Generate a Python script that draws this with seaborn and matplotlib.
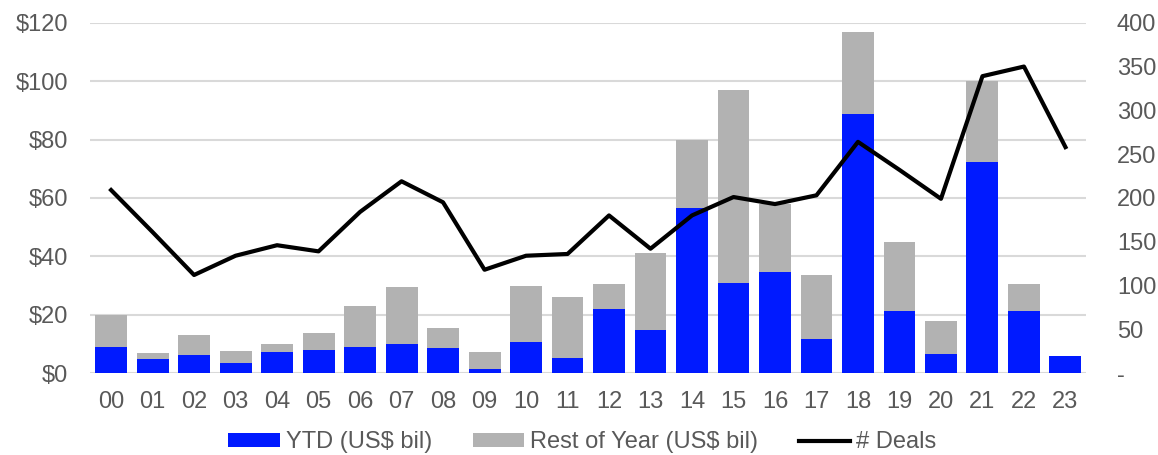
import numpy as np
import pandas as pd
import matplotlib
matplotlib.use("Agg")
import matplotlib.pyplot as plt
import seaborn as sns
from matplotlib.patches import Patch
from matplotlib.lines import Line2D

# ── data ────────────────────────────────────────────────────────────────────
years = ["00", "01", "02", "03", "04", "05", "06", "07", "08", "09", "10", "11",
         "12", "13", "14", "15", "16", "17", "18", "19", "20", "21", "22", "23"]
ytd = [9.0, 4.9, 6.3, 3.5, 7.3, 8.0, 9.0, 9.8, 8.7, 1.4, 10.7, 5.3,
       21.9, 14.7, 56.5, 30.7, 34.5, 11.7, 88.8, 21.3, 6.5, 72.3, 21.3, 5.8]
rest = [11.0, 1.9, 6.7, 4.2, 2.6, 5.7, 14.0, 19.8, 6.6, 5.7, 19.1, 20.7,
        8.5, 26.3, 23.4, 66.1, 23.5, 21.9, 28.0, 23.5, 11.3, 27.8, 9.1, 0.0]
deals = [209, 161, 112, 134, 146, 139, 184, 219, 195, 118, 134, 136,
         180, 142, 180, 201, 193, 203, 264, 232, 199, 339, 350, 258]

BLUE = "#001AFF"
GREY = "#B2B2B2"
TXT = "#595959"

plt.rcParams["font.family"] = ["Liberation Sans", "DejaVu Sans"]

df = pd.DataFrame({"year": years, "ytd": ytd, "rest": rest, "deals": deals})
df["total"] = df["ytd"] + df["rest"]
df["pos"] = np.arange(len(df))

fig, ax = plt.subplots(figsize=(11.58, 4.55), dpi=100)
fig.subplots_adjust(left=0.078, right=0.938, top=0.95, bottom=0.18)

sns.barplot(data=df, x="year", y="total", color=GREY, width=0.77,
            saturation=1, ax=ax, zorder=2)
sns.barplot(data=df, x="year", y="ytd", color=BLUE, width=0.77,
            saturation=1, ax=ax, zorder=3)

ax.set_ylim(0, 120)
ax.set_yticks(range(0, 121, 20))
ax.set_yticklabels([f"${v}" for v in range(0, 121, 20)])
ax.set_xlim(-0.5, len(years) - 0.5)
ax.set_xlabel("")
ax.set_ylabel("")
ax.grid(axis="y", color="#D9D9D9", linewidth=1.5, zorder=0)
ax.set_axisbelow(True)
for s in ax.spines.values():
    s.set_visible(False)
ax.tick_params(axis="both", length=0, labelsize=17, colors=TXT)
ax.tick_params(axis="x", pad=13)
ax.tick_params(axis="y", pad=16)

ax2 = ax.twinx()
sns.lineplot(data=df, x="pos", y="deals", color="black", linewidth=3,
             ax=ax2, zorder=5)
ax2.set_ylim(0, 400)
ax2.set_yticks(range(0, 401, 50))
ax2.set_yticklabels(["-"] + [str(v) for v in range(50, 401, 50)])
ax2.set_ylabel("")
ax2.set_xlabel("")
ax2.set_xlim(-0.5, len(years) - 0.5)
for s in ax2.spines.values():
    s.set_visible(False)
ax2.tick_params(axis="y", length=0, labelsize=17, colors=TXT, pad=22)

handles = [Patch(facecolor=BLUE), Patch(facecolor=GREY),
           Line2D([0], [0], color="black", linewidth=3)]
labels = ["YTD (US$ bil)", "Rest of Year (US$ bil)", "# Deals"]
leg = fig.legend(handles, labels, loc="center", ncol=3, frameon=False,
                 fontsize=17, bbox_to_anchor=(0.503, 0.028), handlelength=2.2,
                 handleheight=0.5, handletextpad=0.25, columnspacing=1.7)
for t in leg.get_texts():
    t.set_color(TXT)

fig.savefig("out.png", dpi=100)
